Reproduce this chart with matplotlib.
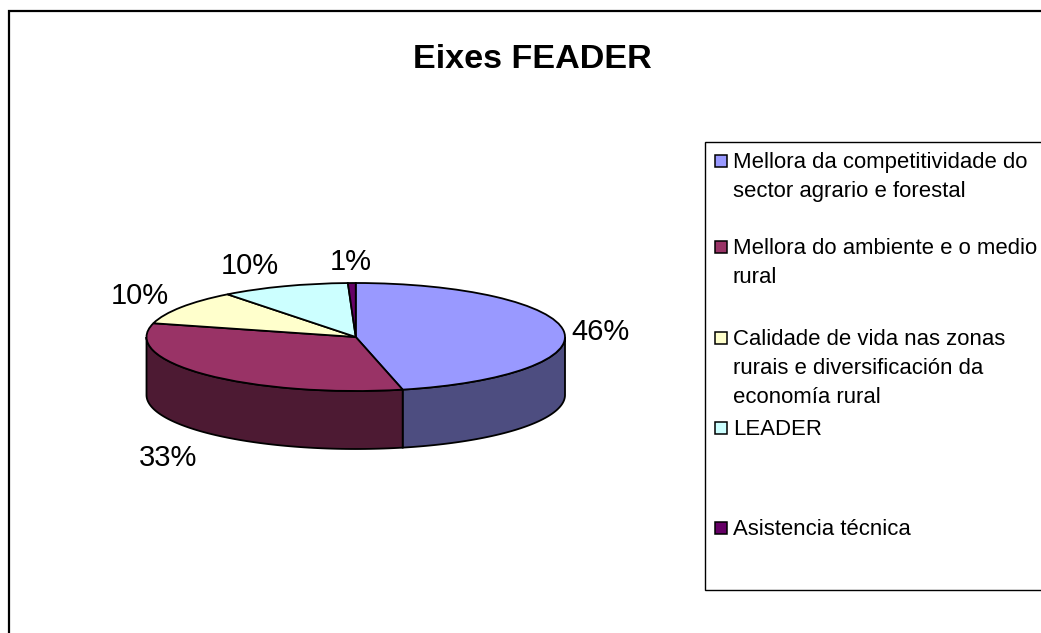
import numpy as np
import matplotlib
matplotlib.use("Agg")
import matplotlib.pyplot as plt
from matplotlib.patches import Rectangle

plt.rcParams['font.family'] = ['Liberation Sans', 'DejaVu Sans']

title = "Eixes FEADER"
categories = [
    "Mellora da competitividade do\nsector agrario e forestal",
    "Mellora do ambiente e o medio\nrural",
    "Calidade de vida nas zonas\nrurais e diversificación da\neconomía rural",
    "LEADER",
    "Asistencia técnica",
]
values = [46.4, 32.7, 10.4, 9.9, 0.6]
colors = ["#9999FF", "#993366", "#FFFFCC", "#CCFFFF", "#660066"]
side_colors = ["#4D4D80", "#4D1A33", "#808066", "#668080", "#330033"]

W, H = 1041, 633
fig = plt.figure(figsize=(W / 100, H / 100), dpi=100)

# overlay in pixel coords for frame, legend and labels
bg = fig.add_axes([0, 0, 1, 1])
bg.set_xlim(0, W)
bg.set_ylim(H, 0)
bg.axis("off")
bg.plot([8.5, 8.5, W], [H, 11, 11], color="black", lw=1.6, solid_joinstyle="miter")
bg.text(532, 60, title, fontsize=24.6, fontweight="bold", ha="center", va="center")

# squashed pie, top face from ax.pie, sides from the same angles
left, right, top, bottom = 146.5, 565, 283, 449
ax = fig.add_axes([left / W, 1 - bottom / H, (right - left) / W, (bottom - top) / H])
ax.patch.set_alpha(0)
depth = 58 / 54

total = sum(values)
start = 90
for v, c in zip(values, side_colors):
    end = start - 360 * v / total
    # only the front half of the rim shows
    a = max(end, -180)
    b = min(start, 0)
    if a < b:
        t = np.radians(np.linspace(a, b, 80))
        xs = np.concatenate([np.cos(t), np.cos(t)[::-1]])
        ys = np.concatenate([np.sin(t), np.sin(t)[::-1] - depth])
        ax.fill(xs, ys, facecolor=c, edgecolor="black", lw=1.3, clip_on=False)
    start = end

ax.pie(values, colors=colors, startangle=90, counterclock=False, radius=1,
       wedgeprops=dict(edgecolor="black", linewidth=1.3, clip_on=False))
ax.set_aspect("auto")
ax.set_xlim(-1, 1)
ax.set_ylim(-1 - depth, 1)
ax.axis("off")

# data labels
label_pos = [(600, 332), (168, 458), (140, 296), (250, 266), (351, 262)]
for v, (x, y) in zip(values, label_pos):
    bg.text(x, y, f"{v:.0f}%", fontsize=21, ha="center", va="center", zorder=5)

# legend
bg.add_patch(Rectangle((705, 142), 400, 448, facecolor="white", edgecolor="black", lw=1))
legend_y = [161, 247, 338, 428, 528]
for name, c, y in zip(categories, colors, legend_y):
    bg.add_patch(Rectangle((714.5, y - 6.5), 12, 12, facecolor=c, edgecolor="black", lw=1.1))
    bg.text(733, y - 9, name, fontsize=15.9, ha="left", va="top", linespacing=1.5)

fig.savefig("out.png", dpi=100)
